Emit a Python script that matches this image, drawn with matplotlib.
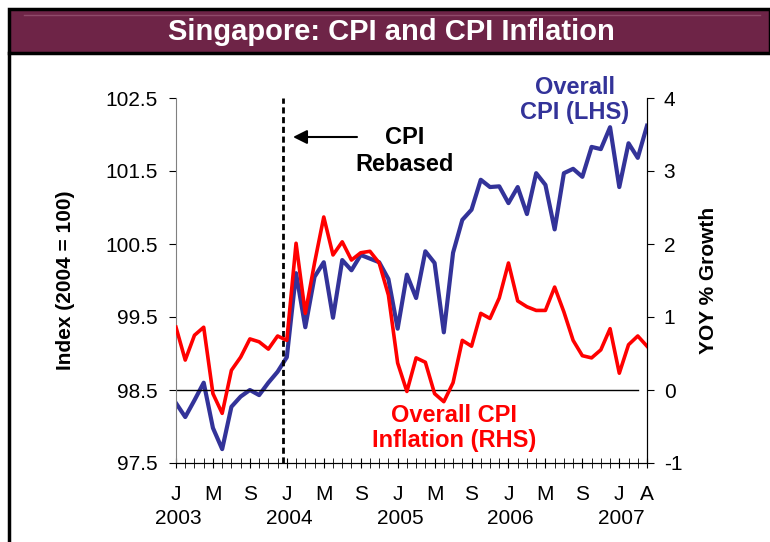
import matplotlib
matplotlib.use('Agg')
import matplotlib.pyplot as plt
from matplotlib.patches import Rectangle
from matplotlib.lines import Line2D

plt.rcParams['font.family'] = ['Liberation Sans', 'DejaVu Sans']

# monthly data, Jan 2003 .. Apr 2007
months = list(range(52))
cpi = [98.32, 98.13, 98.36, 98.60, 97.98, 97.69, 98.27, 98.41, 98.50, 98.43,
       98.60, 98.75, 98.95, 100.10, 99.36, 100.05, 100.25, 99.49, 100.28, 100.14,
       100.35, 100.30, 100.25, 100.02, 99.34, 100.08, 99.76, 100.40, 100.24, 99.29,
       100.38, 100.83, 100.97, 101.38, 101.28, 101.29, 101.06, 101.28, 100.91, 101.47,
       101.31, 100.70, 101.47, 101.53, 101.42, 101.83, 101.80, 102.10, 101.28, 101.88,
       101.68, 102.12]
inflation = [0.86, 0.41, 0.75, 0.86, -0.05, -0.32, 0.27, 0.45, 0.70, 0.66,
             0.56, 0.74, 0.68, 2.01, 1.05, 1.74, 2.37, 1.85, 2.03, 1.78,
             1.88, 1.90, 1.74, 1.30, 0.37, -0.02, 0.44, 0.38, -0.05, -0.16,
             0.10, 0.68, 0.60, 1.05, 0.98, 1.26, 1.74, 1.22, 1.14, 1.09,
             1.09, 1.41, 1.07, 0.68, 0.47, 0.44, 0.55, 0.84, 0.23, 0.62,
             0.74, 0.60]
tick_pos = [0, 4, 8, 12, 16, 20, 24, 28, 32, 36, 40, 44, 48, 51]
tick_lbl = ['J', 'M', 'S', 'J', 'M', 'S', 'J', 'M', 'S', 'J', 'M', 'S', 'J', 'A']
year_pos = [0, 12, 24, 36, 48]
year_lbl = ['2003', '2004', '2005', '2006', '2007']
left_ticks = [97.5, 98.5, 99.5, 100.5, 101.5, 102.5]
right_ticks = [-1, 0, 1, 2, 3, 4]
rebase_month = 11.6

W, H = 770, 542
fig = plt.figure(figsize=(W / 100, H / 100), dpi=100)
fig.patch.set_facecolor('white')


def fx(px):
    return px / W


def fy(py):
    return 1 - py / H


# frame and title bar
fig.add_artist(Rectangle((fx(9), fy(53)), fx(770) - fx(9), fy(9) - fy(53),
                         transform=fig.transFigure, facecolor='#6E2447',
                         edgecolor='black', lw=2.5))
fig.add_artist(Line2D([fx(24), fx(760)], [fy(15), fy(15)], transform=fig.transFigure,
                      color='#8E4A6A', lw=1))
fig.add_artist(Line2D([fx(9), fx(9)], [fy(53), 0], transform=fig.transFigure,
                      color='black', lw=2.5))
fig.text(fx(391), fy(32), 'Singapore: CPI and CPI Inflation', color='white',
         fontsize=21, fontweight='bold', ha='center', va='center')

ax = fig.add_axes([fx(176), fy(463), fx(647) - fx(176), fy(98) - fy(463)])
ax2 = ax.twinx()

ax.plot(months, cpi, color='#333399', lw=3)
ax2.plot(months, inflation, color='#FF0000', lw=2.6)
ax.axhline(98.5, xmax=0.98, color='black', lw=1)
ax.axvline(rebase_month, color='black', lw=2, ls=(0, (2.2, 1.3)))

ax.set_xlim(0, 51)
ax.set_ylim(97.5, 102.5)
ax2.set_ylim(-1, 4)

ax.set_xticks(tick_pos)
ax.set_xticklabels(tick_lbl, fontsize=15)
ax.set_xticks(months, minor=True)
ax.tick_params(axis='x', which='both', direction='inout', length=7, pad=12)
ax.set_yticks(left_ticks)
ax.set_yticklabels(['%.1f' % v for v in left_ticks], fontsize=15)
ax.tick_params(axis='y', direction='out', length=5, pad=8)
ax2.set_yticks(right_ticks)
ax2.set_yticklabels([str(v) for v in right_ticks], fontsize=15)
ax2.tick_params(axis='y', direction='out', length=5, pad=7)

# year row under the month letters
xt = ax.get_xaxis_transform()
for m, yr in zip(year_pos, year_lbl):
    ax.text(m + 0.25, -0.152, yr, transform=xt, fontsize=15,
            ha='center', va='center', clip_on=False)

for a in (ax, ax2):
    a.spines['top'].set_visible(False)
ax.spines['left'].set_color('#808080')
ax2.spines['left'].set_visible(False)

ax.set_ylabel('Index (2004 = 100)', fontsize=15, fontweight='bold')
ax.yaxis.set_label_coords(-0.214, 0.5)
ax2.set_ylabel('YOY % Growth', fontsize=15, fontweight='bold', rotation=90)
ax2.yaxis.set_label_coords(1.11, 0.5)

# annotations
fig.text(fx(575), fy(100), 'Overall\nCPI (LHS)', color='#333399', fontsize=17,
         fontweight='bold', ha='center', va='center', linespacing=1.15)
fig.text(fx(454), fy(428), 'Overall CPI\nInflation (RHS)', color='#FF0000', fontsize=17,
         fontweight='bold', ha='center', va='center', linespacing=1.15)
fig.text(fx(405), fy(151), 'CPI\nRebased', color='black', fontsize=17,
         fontweight='bold', ha='center', va='center', linespacing=1.2)
ax.annotate('', xy=(fx(293), fy(137)), xytext=(fx(357), fy(137)),
            xycoords='figure fraction', textcoords='figure fraction',
            arrowprops=dict(arrowstyle='-|>,head_length=0.6,head_width=0.3',
                            color='black', lw=1.5, mutation_scale=14,
                            shrinkA=0, shrinkB=0))

fig.savefig('out.png', dpi=100)
